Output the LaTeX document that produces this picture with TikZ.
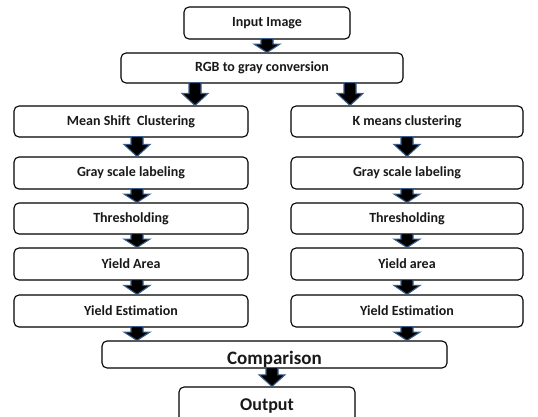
\documentclass[tikz,border=0pt]{standalone}
\usepackage{fontspec}
\setmainfont[Ligatures=CommonOff]{Carlito}
\usetikzlibrary{calc}
\definecolor{arrblue}{RGB}{56,93,138}
\tikzset{
  box/.style={draw=black, line width=1.1pt, rounded corners=5pt, fill=white,
    inner sep=0pt, font=\bfseries\fontsize{14}{16}\selectfont, text=black!90},
  blockarrowst/.style={fill=black, draw=arrblue, line width=1.1pt, line join=miter}
}
\newcommand\blockarr[3]{%
  \draw[blockarrowst] let \p1=(#2.south), \p2=(#3.north),
    \n1={min(12,0.65*(\y1-\y2))} in
    (#1pt-6pt,\y1+1pt) -- (#1pt-6pt,\y2+\n1) -- (#1pt-13pt,\y2+\n1) -- (#1pt,\y2)
    -- (#1pt+13pt,\y2+\n1) -- (#1pt+6pt,\y2+\n1) -- (#1pt+6pt,\y1+1pt) -- cycle;}
\begin{document}
\begin{tikzpicture}[x=1pt,y=-1pt]
\useasboundingbox (0,0) rectangle (538,416);
\clip (0,0) rectangle (538,416);
% boxes
\node[box, minimum width=166pt, minimum height=32pt] (inp) at (267,23) {Input Image};
\node[box, minimum width=282pt, minimum height=30pt] (rgb) at (262,68) {RGB to gray conversion};
\node[box, minimum width=234pt, minimum height=31pt] (ms) at (131,121.5) {Mean Shift\ \ Clustering};
\node[box, minimum width=232pt, minimum height=31pt] (km) at (407,121.5) {K means clustering};
\node[box, minimum width=234pt, minimum height=32pt] (g1) at (131,173) {Gray scale labeling};
\node[box, minimum width=232pt, minimum height=32pt] (g2) at (407,173) {Gray scale labeling};
\node[box, minimum width=234pt, minimum height=31pt] (t1) at (131,218.5) {Thresholding};
\node[box, minimum width=232pt, minimum height=31pt] (t2) at (407,218.5) {Thresholding};
\node[box, minimum width=234pt, minimum height=32pt] (y1) at (131,264) {Yield Area};
\node[box, minimum width=232pt, minimum height=32pt] (y2) at (407,264) {Yield area};
\node[box, minimum width=234pt, minimum height=32pt] (e1) at (131,311) {Yield Estimation};
\node[box, minimum width=232pt, minimum height=32pt] (e2) at (407,311) {Yield Estimation};
\node[box, minimum width=345pt, minimum height=27pt, font=\bfseries\fontsize{19}{21}\selectfont] (cmp) at (274.5,354.5) {\raisebox{-10pt}[0pt][0pt]{Comparison}};
\node[box, minimum width=176pt, minimum height=40pt, font=\bfseries\fontsize{18}{20}\selectfont] (out) at (267,407) {\raisebox{-3pt}[0pt][0pt]{Output}};
% arrows
\blockarr{267}{inp}{rgb}
\blockarr{195}{rgb}{ms}
\blockarr{350}{rgb}{km}
\blockarr{137}{ms}{g1}
\blockarr{407}{km}{g2}
\blockarr{137}{g1}{t1}
\blockarr{407}{g2}{t2}
\blockarr{137}{t1}{y1}
\blockarr{407}{t2}{y2}
\blockarr{137}{y1}{e1}
\blockarr{407}{y2}{e2}
\blockarr{137}{e1}{cmp}
\blockarr{407}{e2}{cmp}
\blockarr{272}{cmp}{out}
\end{tikzpicture}
\end{document}
